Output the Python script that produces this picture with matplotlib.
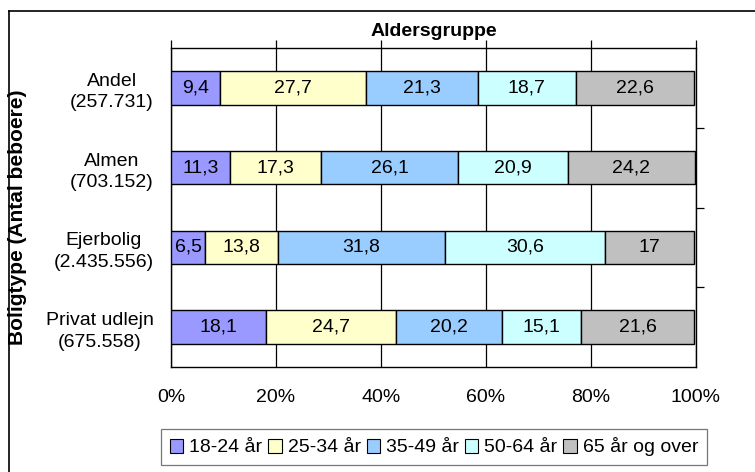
import numpy as np
import matplotlib
matplotlib.use('Agg')
import matplotlib.pyplot as plt
from matplotlib.patches import Patch
from matplotlib.lines import Line2D

plt.rcParams['font.family'] = ['Liberation Sans', 'DejaVu Sans']

# data
boligtyper = ['Andel\n(257.731)', 'Almen\n(703.152)', 'Ejerbolig\n(2.435.556)', 'Privat udlejn\n(675.558)']
grupper = ['18-24 år', '25-34 år', '35-49 år', '50-64 år', '65 år og over']
v_18_24 = [9.4, 11.3, 6.5, 18.1]
v_25_34 = [27.7, 17.3, 13.8, 24.7]
v_35_49 = [21.3, 26.1, 31.8, 20.2]
v_50_64 = [18.7, 20.9, 30.6, 15.1]
v_65 = [22.6, 24.2, 17.0, 21.6]
x_ticks = [0, 20, 40, 60, 80, 100]

farver = ['#9999FF', '#FFFFCC', '#99CCFF', '#CCFFFF', '#C0C0C0']
serier = [v_18_24, v_25_34, v_35_49, v_50_64, v_65]
fs = 14

fig = plt.figure(figsize=(7.55, 4.72), dpi=100)
ax = fig.add_axes([171/755, 1 - 367/472, (696-171)/755, (367-48)/472])

y = np.arange(len(boligtyper))
left = np.zeros(len(boligtyper))
for vals, farve in zip(serier, farver):
    vals = np.array(vals)
    bars = ax.barh(y, vals, left=left, height=0.42, color=farve,
                   edgecolor='black', linewidth=1.0, zorder=3)
    labels = [('%g' % v).replace('.', ',') for v in vals]
    ax.bar_label(bars, labels=labels, label_type='center', fontsize=fs)
    left += vals

ax.set_xlim(0, 100)
ax.set_ylim(len(boligtyper) - 0.5, -0.5)
ax.set_xticks(x_ticks)
ax.set_xticklabels(['%d%%' % t for t in x_ticks], fontsize=fs)
ax.xaxis.grid(True, color='black', linewidth=0.9, zorder=0)
ax.tick_params(axis='x', bottom=False, top=True, labelbottom=True, labeltop=False,
               direction='out', length=6, width=0.9, pad=10)
ax.set_yticks(y)
ax.set_yticklabels(boligtyper, fontsize=fs, multialignment='center', linespacing=1.35)
ax.set_yticks(np.arange(0.5, len(boligtyper) - 0.5), minor=True)
ax.tick_params(axis='y', which='major', left=False, right=False, pad=9)
ax.tick_params(axis='y', which='minor', left=False, right=True,
               direction='out', length=6, width=0.9)
for sp in ax.spines.values():
    sp.set_linewidth(1.0)

ax.set_title('Aldersgruppe', fontsize=fs, fontweight='bold', pad=9)
fig.text(18/755, 1 - 217/472, 'Boligtype (Antal beboere)', rotation=90,
         ha='center', va='center', fontsize=15, fontweight='bold')

handles = [Patch(facecolor=f, edgecolor='black', linewidth=0.8) for f in farver]
leg = fig.legend(handles, grupper, loc='center', bbox_to_anchor=(434/755, 1 - 447/472),
                 ncol=5, fontsize=fs, frameon=True, fancybox=False,
                 handlelength=0.7, handleheight=0.7, handletextpad=0.3,
                 columnspacing=0.3, borderpad=0.45, borderaxespad=0)
leg.get_frame().set_edgecolor('#555555')
leg.get_frame().set_linewidth(0.9)

# outer frame (top and left visible)
fig.add_artist(Line2D([9/755, 1.0], [1 - 11/472, 1 - 11/472], color='black', linewidth=1.2,
                      transform=fig.transFigure))
fig.add_artist(Line2D([9/755, 9/755], [0.0, 1 - 11/472], color='black', linewidth=1.2,
                      transform=fig.transFigure))

fig.savefig('out.png', dpi=100)
